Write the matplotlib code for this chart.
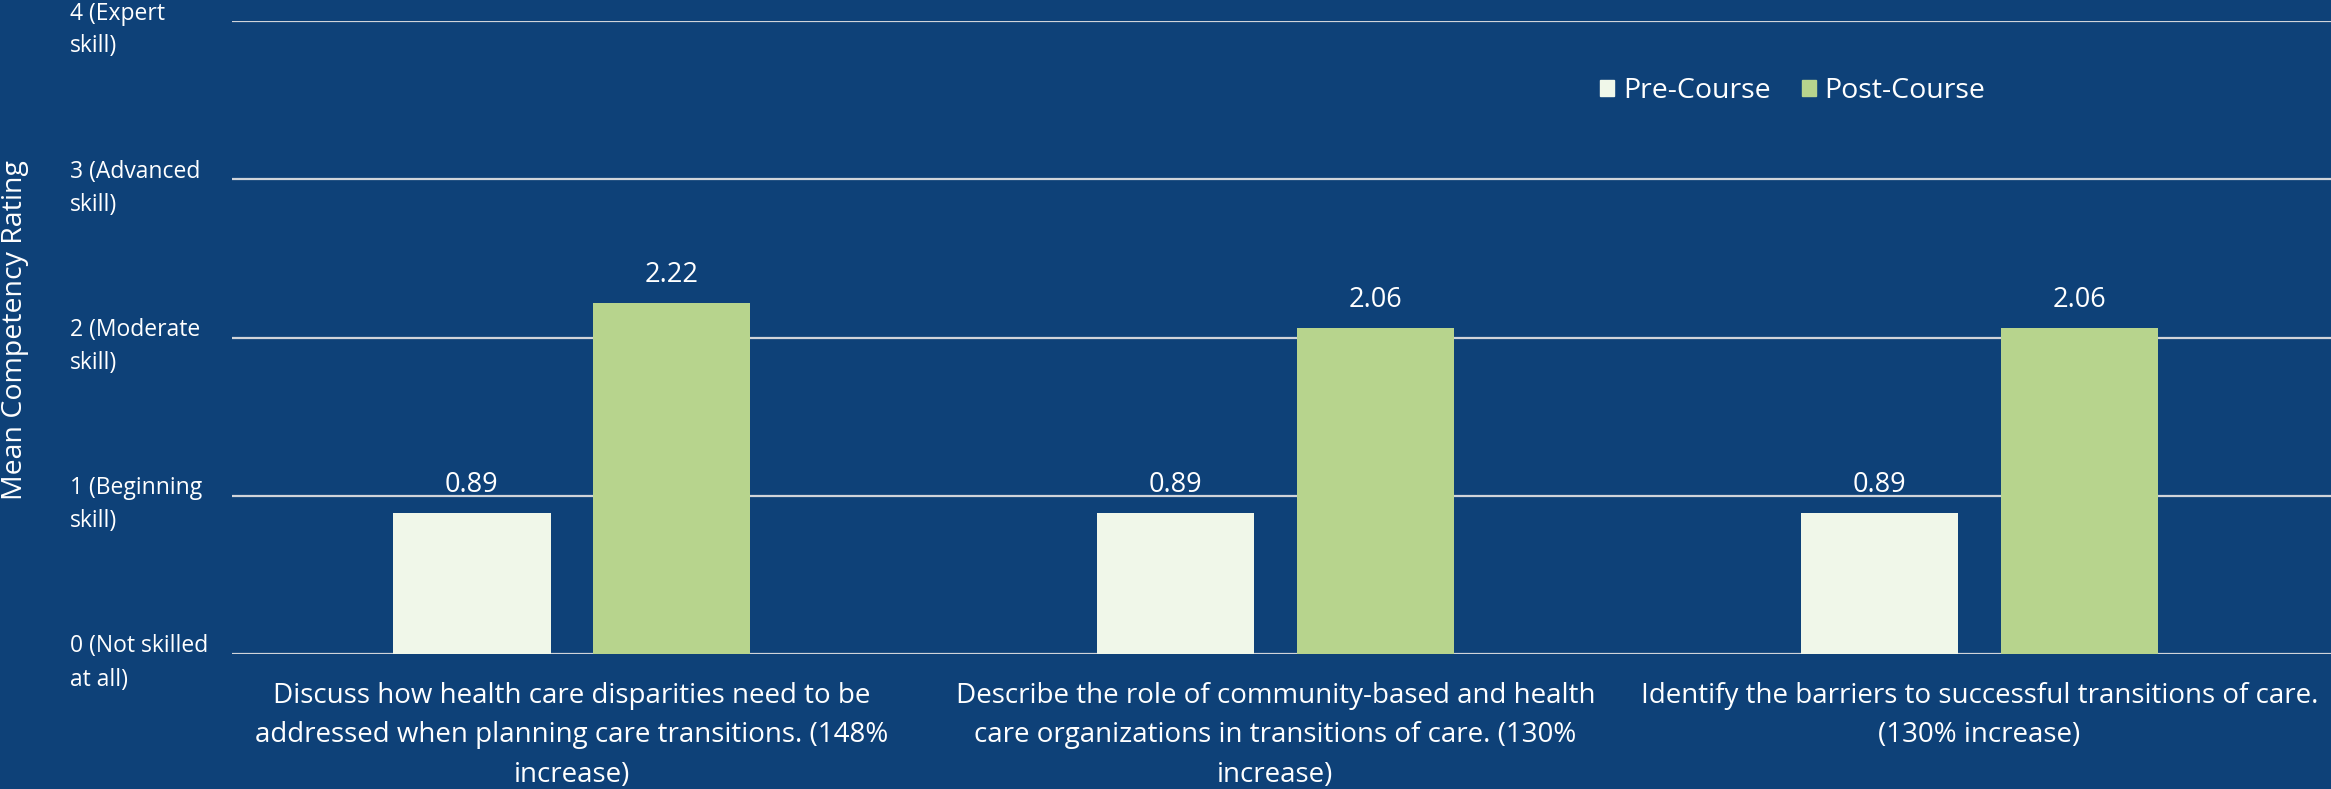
import matplotlib
matplotlib.use("Agg")
import matplotlib.pyplot as plt
import matplotlib.transforms as mtrans
from matplotlib.patches import Patch
import numpy as np

# data
categories = [
    "Discuss how health care disparities need to be\naddressed when planning care transitions. (148%\nincrease)",
    "Describe the role of community-based and health\ncare organizations in transitions of care. (130%\nincrease)",
    "Identify the barriers to successful transitions of care.\n(130% increase)",
]
pre_course = [0.89, 0.89, 0.89]
post_course = [2.22, 2.06, 2.06]
series_names = ["Pre-Course", "Post-Course"]
y_ticks = [0, 1, 2, 3, 4]
y_tick_labels = ["0 (Not skilled\nat all)", "1 (Beginning\nskill)", "2 (Moderate\nskill)",
                 "3 (Advanced\nskill)", "4 (Expert\nskill)"]

bg = "#0E4178"
pre_col = "#F0F7E9"
post_col = "#B7D48D"
grid_col = "#D0D4DA"

plt.rcParams['font.family'] = ['Open Sans', 'DejaVu Sans']

fig = plt.figure(figsize=(23.31, 7.89), dpi=100, facecolor=bg)
ax = fig.add_axes([232/2331, 1 - 654/789, 1 - 232/2331, (654 - 21)/789])
ax.set_facecolor(bg)

x = np.arange(len(categories))
w = 0.224
off = 0.142
b1 = ax.bar(x - off, pre_course, w, color=pre_col, zorder=3)
b2 = ax.bar(x + off, post_course, w, color=post_col, zorder=3)

for bars in (b1, b2):
    for r in bars:
        ax.annotate(f"{r.get_height():.2f}", (r.get_x() + r.get_width()/2, r.get_height()),
                    xytext=(0, 10), textcoords="offset points", ha="center", va="bottom",
                    color="white", fontsize=19.5)

ax.set_xlim(-0.4826, 2.4995)
ax.set_ylim(0, 4)
ax.set_yticks(y_ticks)
ax.set_yticklabels(y_tick_labels, ha="left", va="baseline", linespacing=1.5)
ax.tick_params(axis="y", length=0, pad=116.6, labelsize=16.5, labelcolor="white")
ax.set_xticks(x)
ax.set_xticklabels(categories, linespacing=1.55)
ax.tick_params(axis="x", length=0, pad=20, labelsize=20, labelcolor="white")

# second line baseline goes below the gridline, first line just above it
shift = mtrans.ScaledTranslation(0, -0.315, fig.dpi_scale_trans)
for lab in ax.get_yticklabels():
    lab.set_transform(lab.get_transform() + shift)

for s in ax.spines.values():
    s.set_visible(False)
ax.yaxis.grid(True, color=grid_col, linewidth=1.6, zorder=0)
ax.set_axisbelow(True)

fig.text(15/2331, 1 - 330/789, "Mean Competency Rating", rotation=90, ha="center", va="center",
         color="white", fontsize=20.5)

handles = [Patch(color=pre_col), Patch(color=post_col)]
fig.legend(handles, series_names, loc="center left", bbox_to_anchor=(1600/2331, 1 - 91/789),
           ncol=2, frameon=False, fontsize=20.5, labelcolor="white",
           handlelength=0.5, handleheight=0.5, handletextpad=0.3, columnspacing=1.1,
           borderpad=0, borderaxespad=0)

fig.savefig("out.png", dpi=100, facecolor=bg)
